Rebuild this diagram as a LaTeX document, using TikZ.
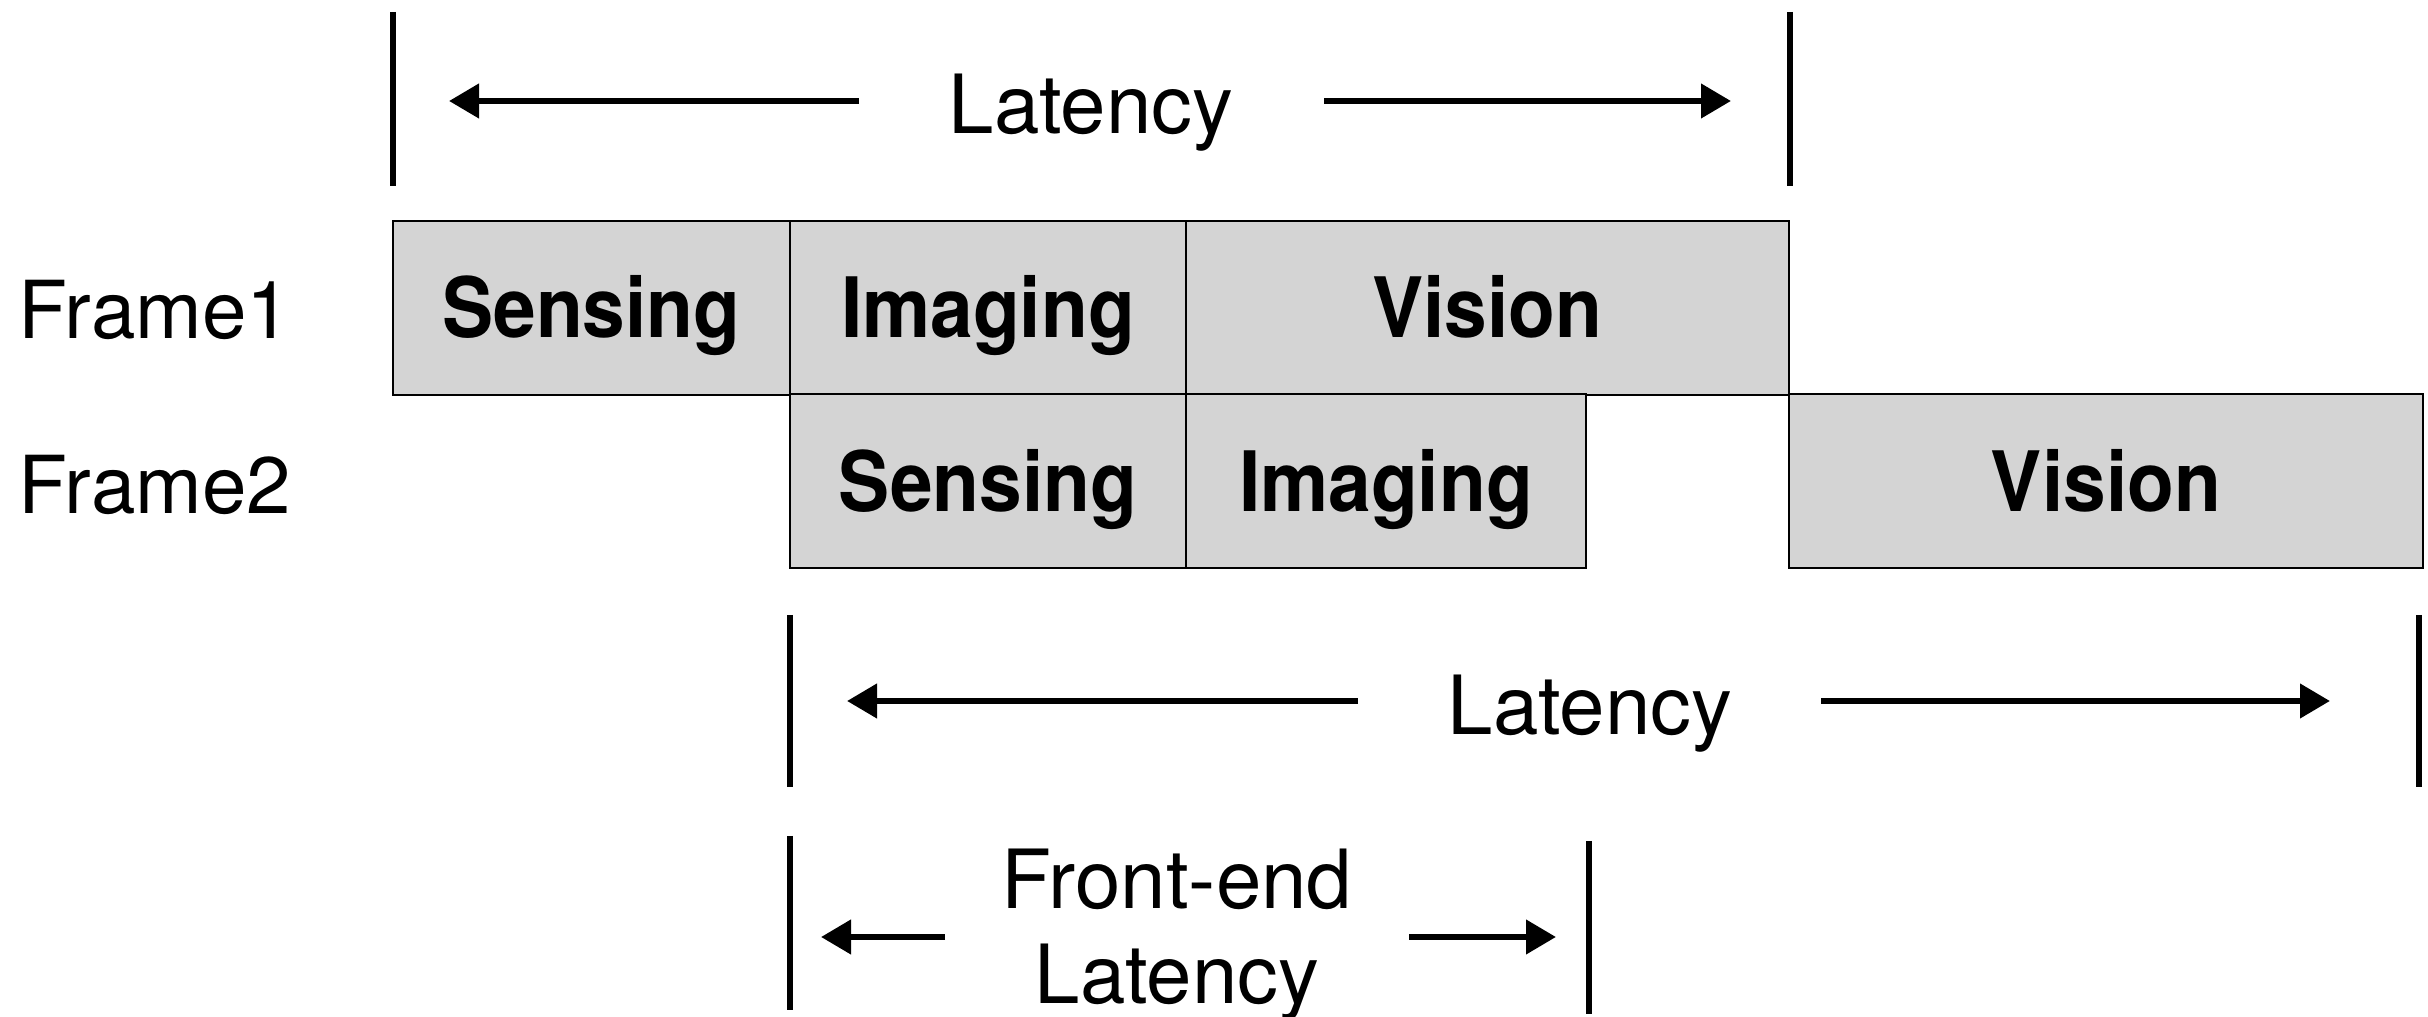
\documentclass[tikz,border=0pt]{standalone}
\usepackage{fontspec}
\setmainfont{TeX Gyre Heros}[BoldFeatures={FakeStretch=0.92}]
\usetikzlibrary{arrows.meta}
\definecolor{stagegray}{HTML}{D4D4D4}
\tikzset{
  stage/.style={draw=black, line width=0.6pt, fill=stagegray, inner sep=0pt, outer sep=0pt,
    minimum height=52.2pt, text height=18pt, text depth=0pt,
    font=\fontsize{25}{30}\selectfont\bfseries},
  rowlabel/.style={anchor=west, inner sep=0pt, text height=17.3pt, text depth=0pt,
    font=\fontsize{24}{28}\selectfont},
  spanlabel/.style={inner sep=0pt, text height=17.6pt, text depth=0pt,
    font=\fontsize{24.5}{28.3}\selectfont},
  twolinelabel/.style={inner sep=0pt, align=center, font=\fontsize{24.5}{28.3}\selectfont},
  marker/.style={line width=1.6pt},
  span/.style={line width=1.9pt, -{Triangle[length=9pt, width=10pt]}},
}
\begin{document}
\begin{tikzpicture}[x=0.3pt, y=-0.3pt]
\useasboundingbox (0,0) rectangle (2428,1017);

% frame labels
\node[rowlabel] (f1) at (18,310) {Frame1};
\node[rowlabel] (f2) at (18,485) {Frame2};

% frame 1 pipeline
\node[stage, minimum width=119.1pt] (s1) at (591.5,308) {Sensing};
\node[stage, minimum width=118.8pt] (i1) at (988,308) {Imaging};
\node[stage, minimum width=180.9pt] (v1) at (1487.5,308) {Vision};

% frame 2 pipeline
\node[stage, minimum width=118.8pt] (s2) at (988,481.5) {Sensing};
\node[stage, minimum width=120pt] (i2) at (1386,481.5) {Imaging};
\node[stage, minimum width=190.2pt] (v2) at (2106,481.5) {Vision};

% frame 1 latency
\coordinate (ta) at (393,12);  \coordinate (tb) at (393,186);
\coordinate (tc) at (1790,12); \coordinate (td) at (1790,186);
\draw[marker] (ta) -- (tb);
\draw[marker] (tc) -- (td);
\node[spanlabel] (lat1) at (1091,104) {Latency};
\coordinate (t1s) at (859,101);  \coordinate (t1e) at (449,101);
\coordinate (t2s) at (1324,101); \coordinate (t2e) at (1731,101);
\draw[span] (t1s) -- (t1e);
\draw[span] (t2s) -- (t2e);

% frame 2 latency
\coordinate (ma) at (790,615);  \coordinate (mb) at (790,787);
\coordinate (mc) at (2419,615); \coordinate (md) at (2419,787);
\draw[marker] (ma) -- (mb);
\draw[marker] (mc) -- (md);
\node[spanlabel] (lat2) at (1590,705) {Latency};
\coordinate (m1s) at (1358,701); \coordinate (m1e) at (847,701);
\coordinate (m2s) at (1821,701); \coordinate (m2e) at (2330,701);
\draw[span] (m1s) -- (m1e);
\draw[span] (m2s) -- (m2e);

% front-end latency
\coordinate (ba) at (790,836);  \coordinate (bb) at (790,1010);
\coordinate (bc) at (1589,841); \coordinate (bd) at (1589,1014);
\draw[marker] (ba) -- (bb);
\draw[marker] (bc) -- (bd);
\node[twolinelabel] (fe) at (1177,935) {Front-end\\Latency};
\coordinate (b1s) at (945,937);  \coordinate (b1e) at (821,937);
\coordinate (b2s) at (1409,937); \coordinate (b2e) at (1556,937);
\draw[span] (b1s) -- (b1e);
\draw[span] (b2s) -- (b2e);
\end{tikzpicture}
\end{document}
